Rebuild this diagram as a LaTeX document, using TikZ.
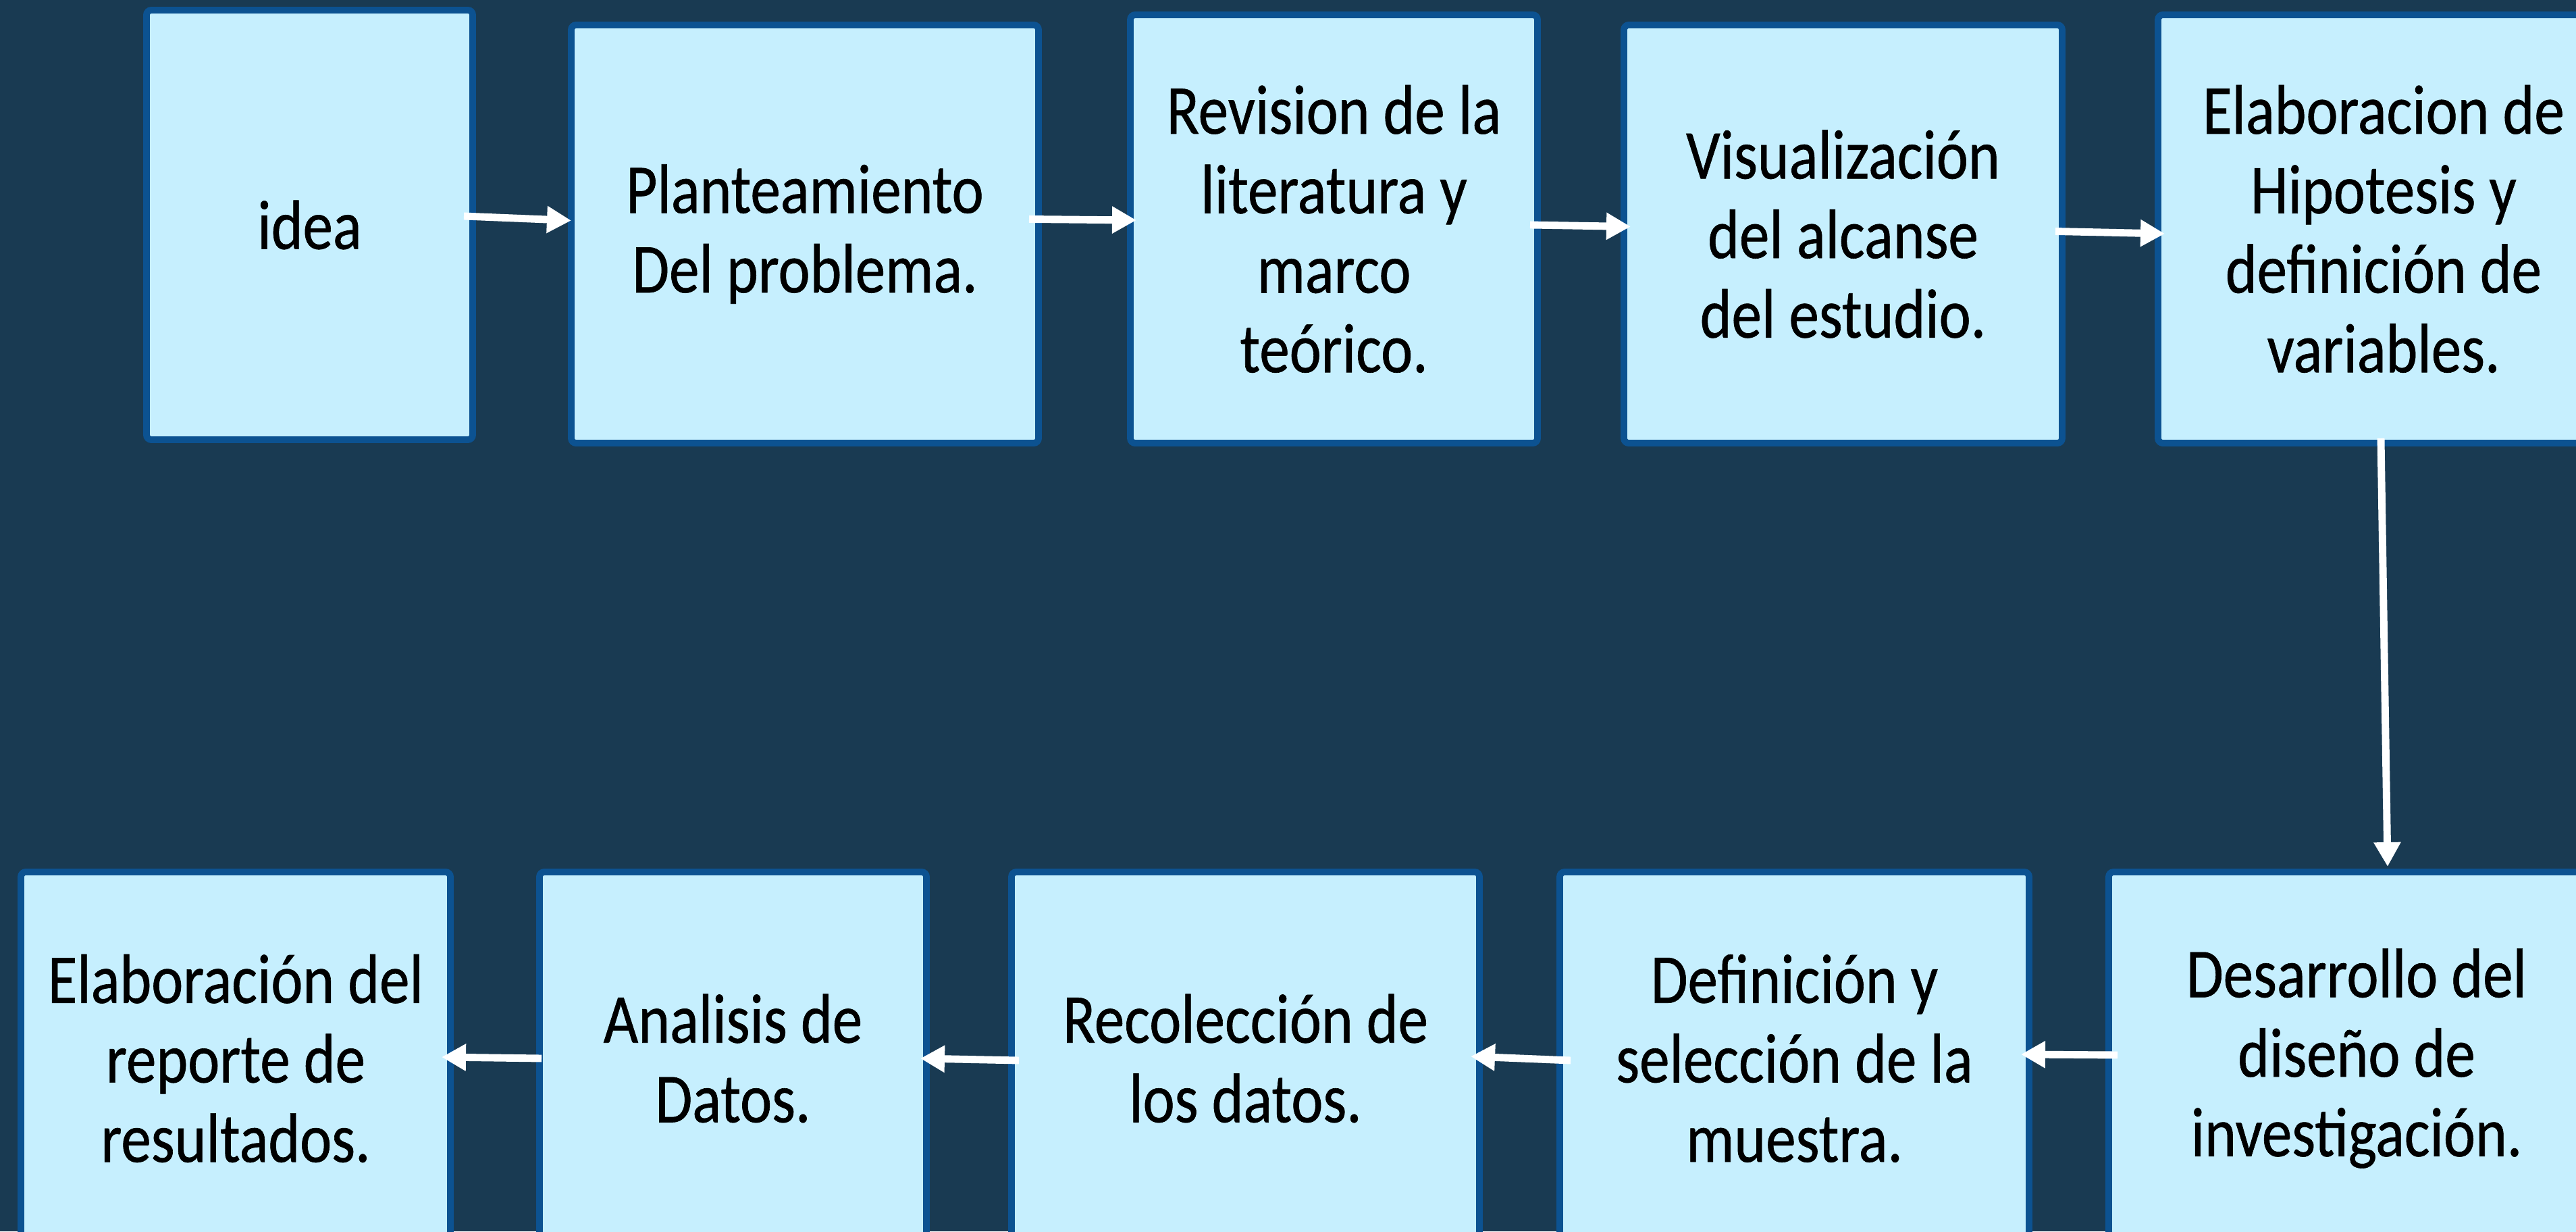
\documentclass[tikz,border=0pt]{standalone}
\usepackage{fontspec}
\setmainfont{Carlito}[FakeStretch=0.86,FakeBold=0.6]
\usetikzlibrary{arrows.meta}
\definecolor{fondo}{RGB}{25,58,82}
\definecolor{celeste}{RGB}{198,239,254}
\definecolor{borde}{RGB}{12,82,145}
\tikzset{
  paso/.style={draw=borde,fill=celeste,line width=2.8pt,rounded corners=2pt,
    align=center,inner sep=0pt,outer sep=0pt,text=black,
    font=\fontsize{29.5}{33.5}\selectfont},
  flecha/.style={draw=white,line width=3.1pt,
    -{Triangle[length=0.36cm,width=0.38cm]}}
}
\begin{document}
\begin{tikzpicture}
    \path[use as bounding box,fill=fondo] (0,0) rectangle (38.15,18.23);
    % fila de arriba
    \node[paso,minimum width=4.83cm,minimum height=6.36cm] at (4.585,14.90) (n1) {idea};
    \node[paso,minimum width=6.92cm,minimum height=6.19cm] at (11.92,14.765) (n2) {Planteamiento\\Del problema.};
    \node[paso,minimum width=6.03cm,minimum height=6.34cm] at (19.755,14.84) (n3) {Revision de la\\literatura y\\marco\\teórico.};
    \node[paso,minimum width=6.49cm,minimum height=6.19cm] at (27.295,14.765) (n4) {Visualización\\del alcanse\\del estudio.};
    \node[paso,minimum width=6.68cm,minimum height=6.34cm] at (35.30,14.84) (n5) {Elaboracion de\\Hipotesis y\\definición de\\variables.};
    % fila de abajo
    \node[paso,minimum width=7.34cm,minimum height=5.52cm] at (34.90,2.56) (n10) {Desarrollo del\\diseño de\\investigación.};
    \node[paso,minimum width=6.95cm,minimum height=5.52cm] at (26.575,2.56) (n9) {Definición y\\selección de la\\muestra.};
    \node[paso,minimum width=6.93cm,minimum height=5.52cm] at (18.445,2.56) (n8) {Recolección de\\los datos.};
    \node[paso,minimum width=5.73cm,minimum height=5.52cm] at (10.855,2.56) (n7) {Analisis de\\Datos.};
    \node[paso,minimum width=6.36cm,minimum height=5.52cm] at (3.49,2.56) (n6) {Elaboración del\\reporte de\\resultados.};
    \draw[flecha] ([xshift=-0.13cm,yshift=0.13cm]n1.east)--([yshift=0.2cm]n2.west);
    \draw[flecha] ([xshift=-0.14cm,yshift=0.22cm]n2.east)--([xshift=0.09cm,yshift=0.13cm]n3.west);
    \draw[flecha] ([xshift=-0.11cm,yshift=0.06cm]n3.east)--([xshift=0.1cm,yshift=0.11cm]n4.west);
    \draw[flecha] ([xshift=-0.1cm,yshift=0.04cm]n4.east)--([xshift=0.1cm,yshift=-0.07cm]n5.west);
    \draw[flecha] ([xshift=-0.04cm,yshift=0.07cm]n5.south)--([xshift=0.46cm,yshift=0.08cm]n10.north);
    \draw[flecha] ([xshift=0.13cm,yshift=0.05cm]n10.west)--([xshift=-0.12cm,yshift=0.06cm]n9.east);
    \draw[flecha] ([xshift=0.16cm,yshift=-0.03cm]n9.west)--([xshift=-0.13cm,yshift=0.03cm]n8.east);
    \draw[flecha] ([xshift=0.11cm,yshift=-0.03cm]n8.west)--([xshift=-0.09cm]n7.east);
    \draw[flecha] ([xshift=0.03cm]n7.west)--([xshift=-0.13cm,yshift=0.02cm]n6.east);
\end{tikzpicture}
\end{document}
